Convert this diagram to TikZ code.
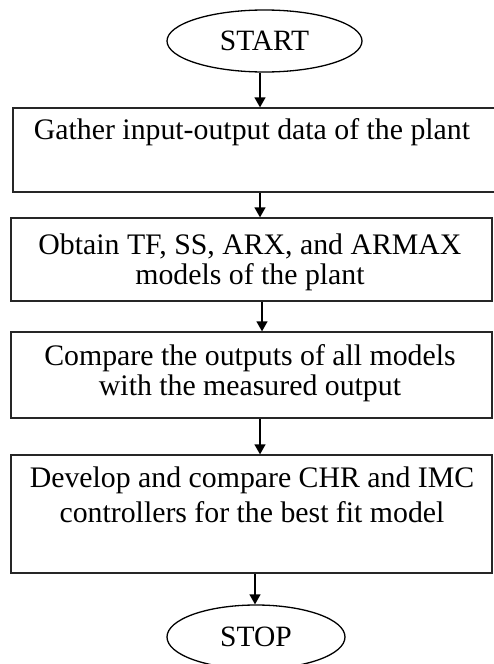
\documentclass[tikz,border=0pt]{standalone}
\usepackage{fontspec}
\setmainfont{Liberation Serif}
\usetikzlibrary{shapes.geometric,arrows.meta}
\begin{document}
\begin{tikzpicture}[x=1pt,y=-1pt,
  boxst/.style={draw=black!85,line width=1.3pt,rectangle,inner sep=0pt},
  ovalst/.style={draw=black,line width=1.3pt,ellipse,inner sep=0pt,minimum width=195pt,minimum height=62pt,font=\fontsize{29.5}{30}\selectfont},
  txt/.style={align=center,inner sep=0pt,font=\fontsize{29.8}{30}\selectfont},
  arr/.style={draw=black,line width=1.3pt,-{Triangle[width=11pt,length=10pt]}}]
\useasboundingbox (0,0) rectangle (493,664);
% start / stop
\node[ovalst] (start) at (264.5,41) {START};
\node[ovalst,minimum width=178pt,minimum height=64pt] (stop) at (256,637) {STOP};
% boxes
\node[boxst,minimum width=490pt,minimum height=84pt] (b1) at (258,150) {};
\node[boxst,minimum width=481pt,minimum height=83pt] (b2) at (251.5,259.5) {};
\node[boxst,minimum width=481pt,minimum height=86pt] (b3) at (251.5,375) {};
\node[boxst,minimum width=481pt,minimum height=118pt] (b4) at (251.5,514) {};
% texts
\node[txt] (t1) at (252,132) {Gather input-output data of the plant};
\node[txt] (t2) at (250,262) {Obtain TF, SS, ARX, and ARMAX\\models of the plant};
\node[txt] (t3) at (250,373) {Compare the outputs of all models\\with the measured output};
\node[txt,font=\fontsize{29.8}{35}\selectfont] (t4) at (252,494.5) {Develop and compare CHR and IMC\\controllers for the best fit model};
% connectors
\draw[arr] (start.south -| 260,0) -- (b1.north -| 260,0);
\draw[arr] (b1.south -| 260,0) -- (b2.north -| 260,0);
\draw[arr] (b2.south -| 262,0) -- (b3.north -| 262,0);
\draw[arr] (b3.south -| 260,0) -- (b4.north -| 260,0);
\draw[arr] (b4.south -| 255,0) -- (stop.north -| 255,0);
\end{tikzpicture}
\end{document}
